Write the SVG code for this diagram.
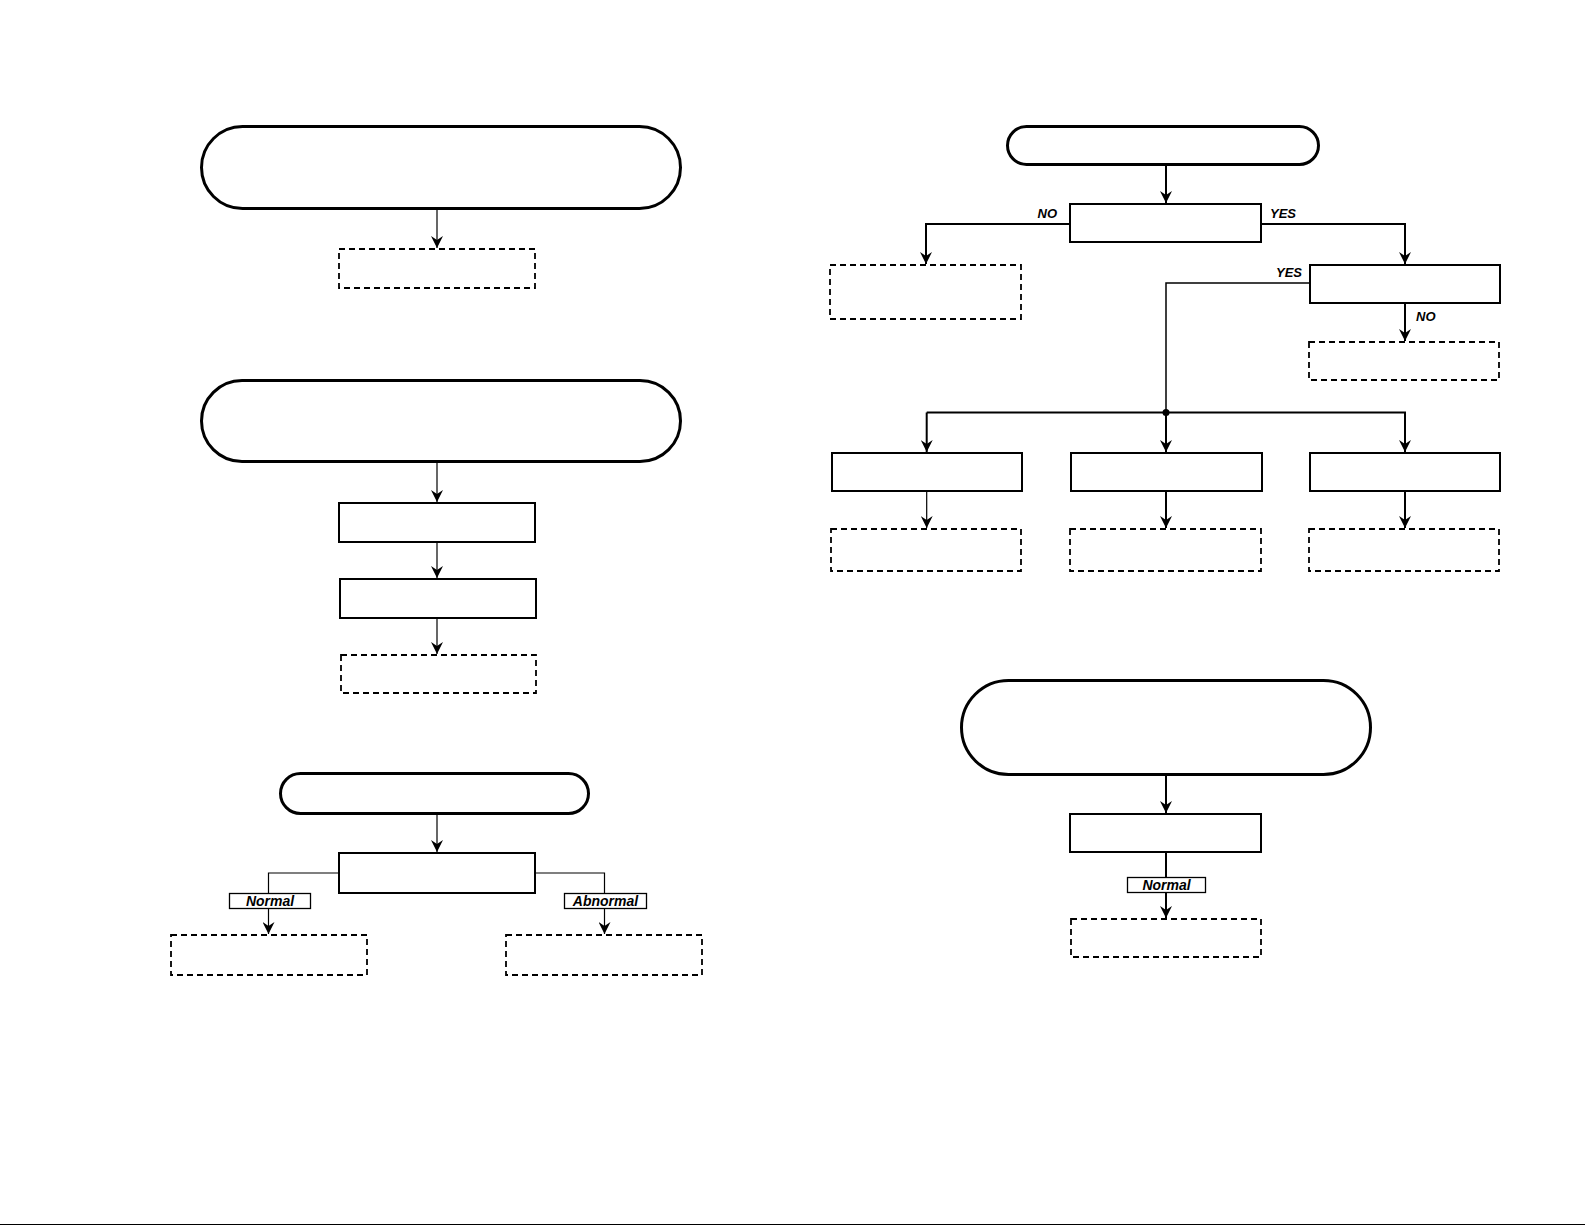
<svg xmlns="http://www.w3.org/2000/svg" width="1585" height="1225" viewBox="0 0 1585 1225">
<style>
.pill{fill:#fff;stroke:#000;stroke-width:3}
.box{fill:#fff;stroke:#000;stroke-width:2}
.dash{fill:#fff;stroke:#000;stroke-width:1.8;stroke-dasharray:6 4}
.lbl{fill:#fff;stroke:#000;stroke-width:1.3}
.thin{fill:none;stroke:#000;stroke-width:1.2}
.thick{fill:none;stroke:#000;stroke-width:2}
.t{font-family:"Liberation Sans",Arial,sans-serif;font-weight:bold;font-style:italic;fill:#000}
</style>
<defs>
<marker id="arr" viewBox="0 0 12 12" refX="12" refY="6" markerWidth="12" markerHeight="12" markerUnits="userSpaceOnUse" orient="auto">
<path d="M0,0 L12,6 L0,12 L4,6 Z" fill="#000"/>
</marker>
</defs>
<rect width="1585" height="1225" fill="#fff"/>
<g id="connectors">
<path class="thin" d="M437,209 V248" marker-end="url(#arr)"/>
<path class="thin" d="M437,463 V502" marker-end="url(#arr)"/>
<path class="thin" d="M437,543 V578" marker-end="url(#arr)"/>
<path class="thin" d="M437,619 V654" marker-end="url(#arr)"/>
<path class="thin" d="M437,815 V852" marker-end="url(#arr)"/>
<path class="thin" d="M338,873 H268.5 V934" marker-end="url(#arr)"/>
<path class="thin" d="M536,873 H604.5 V934" marker-end="url(#arr)"/>
<path class="thick" d="M1166,166 V203" marker-end="url(#arr)"/>
<path class="thick" d="M1069,224 H926 V264" marker-end="url(#arr)"/>
<path class="thick" d="M1262,224 H1405 V264" marker-end="url(#arr)"/>
<path class="thin" d="M1309,283 H1166 V412.5" style="stroke-width:1.5"/>
<path class="thick" d="M1405,304 V341" marker-end="url(#arr)"/>
<path class="thick" d="M926.7,412.5 V452" marker-end="url(#arr)"/>
<path class="thick" d="M926.7,412.5 H1405 V452" marker-end="url(#arr)"/>
<path class="thick" d="M1166,412.5 V452" marker-end="url(#arr)"/>
<circle cx="1166" cy="412.5" r="3.5" fill="#000"/>
<path class="thin" d="M926.7,491 V528" marker-end="url(#arr)"/>
<path class="thick" d="M1166,491 V528" marker-end="url(#arr)"/>
<path class="thick" d="M1405,491 V528" marker-end="url(#arr)"/>
<path class="thick" d="M1166,776 V813" marker-end="url(#arr)"/>
<path class="thick" d="M1166,853 V918" marker-end="url(#arr)"/>
</g>
<g id="pill1"><rect class="pill" x="201.5" y="126.5" width="479" height="82" rx="41"/></g>
<g id="dashed1"><rect class="dash" x="339" y="249" width="196" height="39"/></g>
<g id="pill2"><rect class="pill" x="201.5" y="380.5" width="479" height="81" rx="40.5"/></g>
<g id="box1"><rect class="box" x="339" y="503" width="196" height="39"/></g>
<g id="box2"><rect class="box" x="340" y="579" width="196" height="39"/></g>
<g id="dashed2"><rect class="dash" x="341" y="655" width="195" height="38"/></g>
<g id="pill3"><rect class="pill" x="280.5" y="773.5" width="308" height="40" rx="20"/></g>
<g id="decisionL"><rect class="box" x="339" y="853" width="196" height="40"/></g>
<g id="labelNormalL"><rect class="lbl" x="229.5" y="893.5" width="81" height="15"/><text class="t" x="270" y="906" font-size="14" text-anchor="middle">Normal</text></g>
<g id="labelAbnormal"><rect class="lbl" x="564.5" y="893.5" width="82" height="15"/><text class="t" x="605.5" y="906" font-size="14" text-anchor="middle">Abnormal</text></g>
<g id="dashedNormal"><rect class="dash" x="171" y="935" width="196" height="40"/></g>
<g id="dashedAbnormal"><rect class="dash" x="506" y="935" width="196" height="40"/></g>
<g id="pillR1"><rect class="pill" x="1007.5" y="126.5" width="311" height="38" rx="19"/></g>
<g id="decisionR1"><rect class="box" x="1070" y="204" width="191" height="38"/></g>
<g id="labelNO1"><text class="t" x="1057" y="218" font-size="13" text-anchor="end">NO</text></g>
<g id="labelYES1"><text class="t" x="1270" y="218" font-size="13">YES</text></g>
<g id="dashedNO"><rect class="dash" x="830" y="265" width="191" height="54"/></g>
<g id="decisionR2"><rect class="box" x="1310" y="265" width="190" height="38"/></g>
<g id="labelYES2"><text class="t" x="1276" y="277" font-size="13">YES</text></g>
<g id="labelNO2"><text class="t" x="1416" y="321" font-size="13">NO</text></g>
<g id="dashedNO2"><rect class="dash" x="1309" y="342" width="190" height="38"/></g>
<g id="boxA"><rect class="box" x="832" y="453" width="190" height="38"/></g>
<g id="boxB"><rect class="box" x="1071" y="453" width="191" height="38"/></g>
<g id="boxC"><rect class="box" x="1310" y="453" width="190" height="38"/></g>
<g id="dashedA"><rect class="dash" x="831" y="529" width="190" height="42"/></g>
<g id="dashedB"><rect class="dash" x="1070" y="529" width="191" height="42"/></g>
<g id="dashedC"><rect class="dash" x="1309" y="529" width="190" height="42"/></g>
<g id="pillR2"><rect class="pill" x="961.5" y="680.5" width="409" height="94" rx="47"/></g>
<g id="boxR3"><rect class="box" x="1070" y="814" width="191" height="38"/></g>
<g id="labelNormalR"><rect class="lbl" x="1127.5" y="877.5" width="78" height="15"/><text class="t" x="1166.5" y="890" font-size="14" text-anchor="middle">Normal</text></g>
<g id="dashedR3"><rect class="dash" x="1071" y="919" width="190" height="38"/></g>
<line x1="0" y1="1224.5" x2="1585" y2="1224.5" stroke="#000" stroke-width="1"/>
</svg>
